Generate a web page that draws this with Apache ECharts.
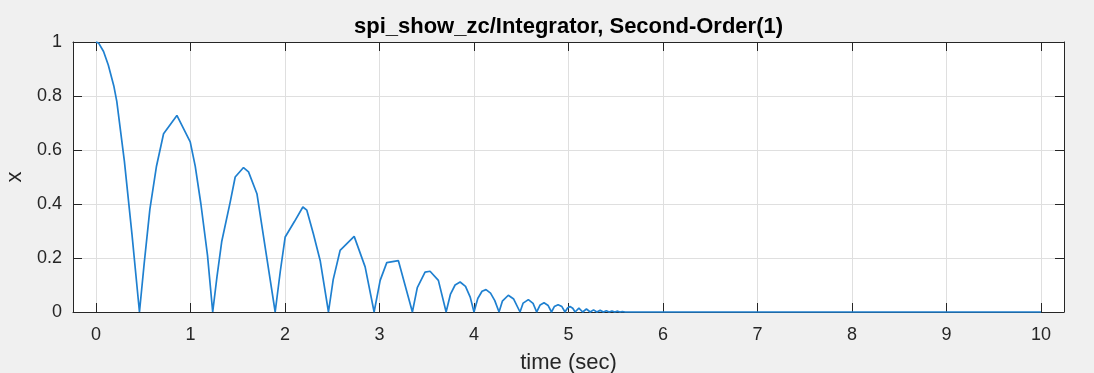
<!DOCTYPE html>
<html>
<head>
<meta charset="utf-8">
<script src="https://cdn.jsdelivr.net/npm/echarts@6/dist/echarts.min.js"></script>
<style>
html,body{margin:0;padding:0;background:#f0f0f0;}
#chart{width:1094px;height:373px;}
</style>
</head>
<body>
<div id="chart"></div>
<script>
// time (sec) samples
var timeValues = [
  0, 0.03, 0.08, 0.13, 0.19, 0.22, 0.30, 0.38, 0.46,
  0.51, 0.57, 0.64, 0.715, 0.856, 0.997, 1.05, 1.11, 1.18, 1.235,
  1.28, 1.33, 1.42, 1.473, 1.561, 1.614, 1.703, 1.79, 1.896,
  1.95, 2.002, 2.10, 2.189, 2.231, 2.30, 2.372, 2.46,
  2.51, 2.583, 2.732, 2.848, 2.943,
  3.007, 3.077, 3.20, 3.348,
  3.40, 3.482, 3.535, 3.623, 3.705,
  3.75, 3.80, 3.853, 3.91, 3.96, 4.0,
  4.04, 4.085, 4.127, 4.175, 4.22, 4.265,
  4.30, 4.363, 4.42, 4.487,
  4.52, 4.575, 4.625, 4.663,
  4.70, 4.741, 4.785, 4.82,
  4.85, 4.89, 4.93, 4.963,
  4.99, 5.016, 5.045, 5.07,
  5.11, 5.15, 5.19, 5.23, 5.265, 5.30, 5.335, 5.37, 5.40, 5.43,
  5.46, 5.49, 5.52, 5.545, 5.57, 5.60, 10
];
// x (position) values
var xValues = [
  1.0, 0.995, 0.965, 0.915, 0.835, 0.78, 0.56, 0.29, 0,
  0.18, 0.38, 0.54, 0.66, 0.728, 0.63, 0.54, 0.40, 0.21, 0,
  0.13, 0.26, 0.407, 0.50, 0.535, 0.519, 0.438, 0.24, 0,
  0.15, 0.278, 0.335, 0.389, 0.377, 0.29, 0.191, 0,
  0.12, 0.228, 0.28, 0.167, 0,
  0.117, 0.183, 0.19, 0,
  0.09, 0.148, 0.151, 0.117, 0,
  0.065, 0.10, 0.111, 0.095, 0.055, 0,
  0.05, 0.077, 0.083, 0.07, 0.042, 0,
  0.04, 0.062, 0.048, 0,
  0.033, 0.046, 0.032, 0,
  0.026, 0.034, 0.024, 0,
  0.02, 0.027, 0.02, 0,
  0.015, 0.02, 0.014, 0,
  0.014, 0, 0.011, 0, 0.008, 0, 0.006, 0, 0.005, 0,
  0.004, 0, 0.003, 0, 0.002, 0, 0
];
var xAxisRange = [0, 10];
var yAxisRange = [0, 1];
var titleText = 'spi_show_zc/Integrator, Second-Order(1)';
var xAxisName = 'time (sec)';
var yAxisName = 'x';

var seriesData = timeValues.map(function (t, i) { return [t, xValues[i]]; });

var FONT = '"Liberation Sans", Arial, Helvetica, sans-serif';
var AX = '#262626';
var GRIDC = '#dfdfdf';
var TICK_FS = 18;
var LABEL_FS = 22;

var chart = echarts.init(document.getElementById('chart'), null, {renderer: 'canvas'});
chart.setOption({
  backgroundColor: '#f0f0f0',
  animation: false,
  textStyle: {fontFamily: FONT},
  graphic: [{
    type: 'text',
    x: 568.5, y: 27,
    style: {
      text: titleText,
      fontFamily: FONT, fontSize: 22, fontWeight: 'bold',
      fill: '#000', textAlign: 'center', textVerticalAlign: 'middle'
    }
  }],
  grid: [
    {left: 73, right: 30, top: 42, bottom: 61, show: true, backgroundColor: '#fff', borderWidth: 0,
     containLabel: false, outerBoundsMode: 'none'},
    {left: 96, right: 53, top: 42, bottom: 61, containLabel: false, outerBoundsMode: 'none'}
  ],
  xAxis: [
    {gridIndex: 0, type: 'value', min: 0, max: 1, position: 'bottom',
     axisLine: {show: true, onZero: false, lineStyle: {color: AX, width: 1}}, axisTick: {show: false},
     axisLabel: {show: false}, splitLine: {show: false}},
    {gridIndex: 0, type: 'value', min: 0, max: 1, position: 'top',
     axisLine: {show: true, onZero: false, lineStyle: {color: AX, width: 1}}, axisTick: {show: false},
     axisLabel: {show: false}, splitLine: {show: false}},
    {gridIndex: 1, type: 'value', min: xAxisRange[0], max: xAxisRange[1], interval: 1, position: 'bottom',
     axisLine: {show: false, onZero: false},
     axisTick: {show: true, inside: true, length: 9, lineStyle: {color: AX, width: 1}},
     axisLabel: {show: true, color: AX, fontSize: TICK_FS, margin: 14, fontFamily: FONT},
     splitLine: {show: true, lineStyle: {color: GRIDC, width: 1}},
     name: xAxisName, nameLocation: 'middle', nameGap: 40,
     nameTextStyle: {color: AX, fontSize: LABEL_FS, fontFamily: FONT}},
    {gridIndex: 1, type: 'value', min: xAxisRange[0], max: xAxisRange[1], interval: 1, position: 'top',
     axisLine: {show: false, onZero: false},
     axisTick: {show: true, inside: true, length: 9, lineStyle: {color: AX, width: 1}},
     axisLabel: {show: false}, splitLine: {show: false}}
  ],
  yAxis: [
    {gridIndex: 0, type: 'value', min: yAxisRange[0], max: yAxisRange[1], interval: 0.2, position: 'left',
     axisLine: {show: true, onZero: false, lineStyle: {color: AX, width: 1}},
     axisTick: {show: true, inside: true, length: 9, lineStyle: {color: AX, width: 1}},
     axisLabel: {show: true, color: AX, fontSize: TICK_FS, margin: 11, fontFamily: FONT},
     splitLine: {show: true, lineStyle: {color: GRIDC, width: 1}},
     name: yAxisName, nameLocation: 'middle', nameGap: 41,
     nameTextStyle: {color: AX, fontSize: LABEL_FS, fontFamily: FONT}},
    {gridIndex: 0, type: 'value', min: yAxisRange[0], max: yAxisRange[1], interval: 0.2, position: 'right',
     axisLine: {show: true, onZero: false, lineStyle: {color: AX, width: 1}},
     axisTick: {show: true, inside: true, length: 9, lineStyle: {color: AX, width: 1}},
     axisLabel: {show: false}, splitLine: {show: false}},
    {gridIndex: 1, type: 'value', min: yAxisRange[0], max: yAxisRange[1], show: false,
     splitLine: {show: false}}
  ],
  series: [{
    type: 'line',
    xAxisIndex: 2, yAxisIndex: 2,
    data: seriesData,
    showSymbol: false, symbol: 'none',
    clip: false,
    lineStyle: {color: '#1f80d0', width: 1.7},
    z: 5
  }]
});
</script>
</body>
</html>
